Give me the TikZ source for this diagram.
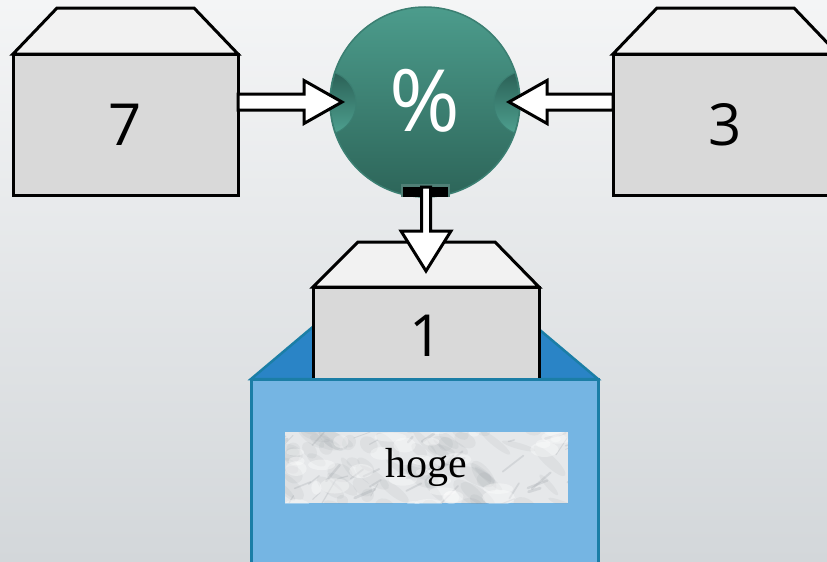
\documentclass[tikz,border=0pt]{standalone}
\usepackage{fontspec}
\newfontfamily\digitfont{Open Sans}
\newfontfamily\labelfont{Liberation Serif}
\usetikzlibrary{calc}

\definecolor{bgtop}{HTML}{F4F5F6}
\definecolor{bgbot}{HTML}{D3D7DA}
\definecolor{boxfront}{HTML}{D9D9D9}
\definecolor{boxtop}{HTML}{F2F2F2}
\definecolor{optop}{HTML}{4C9C8C}
\definecolor{opbot}{HTML}{2D6559}
\definecolor{opedge}{HTML}{3B7F72}
\definecolor{notchdark}{HTML}{2A5F55}
\definecolor{notchlight}{HTML}{4FA291}
\definecolor{bluefront}{HTML}{75B5E3}
\definecolor{bluetop}{HTML}{2A84C6}
\definecolor{blueedge}{HTML}{1B7EA6}
\definecolor{marble}{HTML}{E6E8EA}
\definecolor{vein}{HTML}{8E949A}

\tikzset{
  valbox/.style={draw=black, line width=3pt, fill=boxfront, rectangle,
    outer sep=0pt, inner sep=0pt, font=\digitfont\fontsize{58}{60}\selectfont},
  lidface/.style={draw=black, line width=3pt, fill=boxtop, line join=miter},
  opball/.style={circle, minimum size=190pt, inner sep=0pt, outer sep=0pt,
    top color=optop, bottom color=opbot, draw=opedge, line width=1.5pt,
    text=white, font=\digitfont\fontsize{86}{88}\selectfont},
  blockarrow/.style={draw=black, fill=white, line width=3pt, line join=miter},
  storefront/.style={rectangle, draw=blueedge, fill=bluefront, line width=3pt,
    outer sep=0pt, inner sep=0pt},
  storelid/.style={draw=blueedge, fill=bluetop, line width=2.5pt},
}

\begin{document}
\begin{tikzpicture}[x=1pt,y=-1pt]
  % page and backdrop
  \clip (0,0) rectangle (827,562);
  \useasboundingbox (0,0) rectangle (827,562);
  \shade[top color=bgtop, bottom color=bgbot] (0,0) rectangle (827,562);

  % the two operand boxes
  \node[valbox, minimum width=225pt, minimum height=141pt] (a) at (125.5,124.5) {7};
  \node[valbox, minimum width=225pt, minimum height=141pt] (b) at (725.5,124.5) {3};
  \foreach \bx in {a,b}
    \draw[lidface] (\bx.north west) -- ($(\bx.north west)+(44,-46)$)
      -- ($(\bx.north east)+(-44,-46)$) -- (\bx.north east) -- cycle;

  % the operator
  \node[opball] (op) at (425,102) {\raisebox{4pt}{\%}};
  \begin{scope}
    \clip (op.center) circle [radius=94pt];
    \shade[top color=notchdark, bottom color=notchlight, draw=opedge, line width=1pt]
      ($(op.west)+(-6,1)$) circle [radius=32pt];
    \shade[top color=notchdark, bottom color=notchlight, draw=opedge, line width=1pt]
      ($(op.east)+(6,1)$) circle [radius=32pt];
  \end{scope}
  % output port
  \fill[opedge!70!gray] ($(op.south)+(-24,-13)$) rectangle ($(op.south)+(25,0)$);
  \fill[black] ($(op.south)+(-22,-10)$) rectangle ($(op.south)+(23,0)$);

  % storage box behind the result
  \draw[storelid] (251,379) -- (321,320) -- (528,320) -- (598,379) -- cycle;

  % result box
  \node[valbox, minimum width=226pt, minimum height=98pt] (c) at (426,336) {1};
  \draw[lidface] (c.north west) -- ($(c.north west)+(45,-45)$)
    -- ($(c.north east)+(-44,-45)$) -- (c.north east) -- cycle;

  % storage box front
  \node[storefront, minimum width=347pt, minimum height=220pt, anchor=north west]
    (d) at (251,379) {};

  % marble name plate
  \fill[marble] (285,432) rectangle (568,503);
  \begin{scope}
    \clip (285,432) rectangle (568,503);
    \pgfmathsetseed{11}
    % soft clouds
    \foreach \i in {1,...,70} {
      \pgfmathsetmacro\xa{275+300*rnd}
      \pgfmathsetmacro\ya{425+85*rnd}
      \pgfmathsetmacro\rx{6+16*rnd}
      \pgfmathsetmacro\ry{3+6*rnd}
      \pgfmathsetmacro\an{-15-40*rnd}
      \fill[vein, opacity=0.10, rotate around={\an:(\xa,\ya)}]
        (\xa,\ya) ellipse [x radius=\rx pt, y radius=\ry pt];
    }
    % fine veins
    \foreach \i in {1,...,45} {
      \pgfmathsetmacro\xa{270+300*rnd}
      \pgfmathsetmacro\ya{425+85*rnd}
      \pgfmathsetmacro\an{-15-45*rnd}
      \pgfmathsetmacro\ln{6+22*rnd}
      \pgfmathsetmacro\lw{0.8+2*rnd}
      \draw[vein, opacity=0.22, line width=\lw pt, line cap=round]
        (\xa,\ya) -- ++(\an:\ln);
    }
    % light patches
    \foreach \i in {1,...,35} {
      \pgfmathsetmacro\xa{275+300*rnd}
      \pgfmathsetmacro\ya{425+85*rnd}
      \pgfmathsetmacro\rx{5+12*rnd}
      \pgfmathsetmacro\ry{3+5*rnd}
      \fill[white, opacity=0.35] (\xa,\ya) ellipse [x radius=\rx pt, y radius=\ry pt];
    }
  \end{scope}
  \node[font=\labelfont\fontsize{42}{44}\selectfont] (lbl) at (426.5,467.5) {hoge};

  % connectors: operands into the operator
  \draw[blockarrow] let \p1=(a.east), \p2=($(op.west)+(12,0)$) in
    (\x1,\y2+8pt) -- (\x2-38pt,\y2+8pt) -- (\x2-38pt,\y2+21.5pt) -- (\x2,\y2)
    -- (\x2-38pt,\y2-21.5pt) -- (\x2-38pt,\y2-8pt) -- (\x1,\y2-8pt) -- cycle;
  \draw[blockarrow] let \p1=(b.west), \p2=($(op.east)+(-11,0)$) in
    (\x1,\y2+8pt) -- (\x2+38pt,\y2+8pt) -- (\x2+38pt,\y2+21.5pt) -- (\x2,\y2)
    -- (\x2+38pt,\y2-21.5pt) -- (\x2+38pt,\y2-8pt) -- (\x1,\y2-8pt) -- cycle;
  % connector: operator into the result
  \draw[blockarrow] let \p1=($(op.south)+(0,-10)$), \p2=($(c.north)+(0,-16)$) in
    (\x2-4.5pt,\y1) -- (\x2-4.5pt,\y2+40pt) -- (\x2-25pt,\y2+40pt) -- (\x2,\y2)
    -- (\x2+25pt,\y2+40pt) -- (\x2+4.5pt,\y2+40pt) -- (\x2+4.5pt,\y1) -- cycle;
\end{tikzpicture}
\end{document}
